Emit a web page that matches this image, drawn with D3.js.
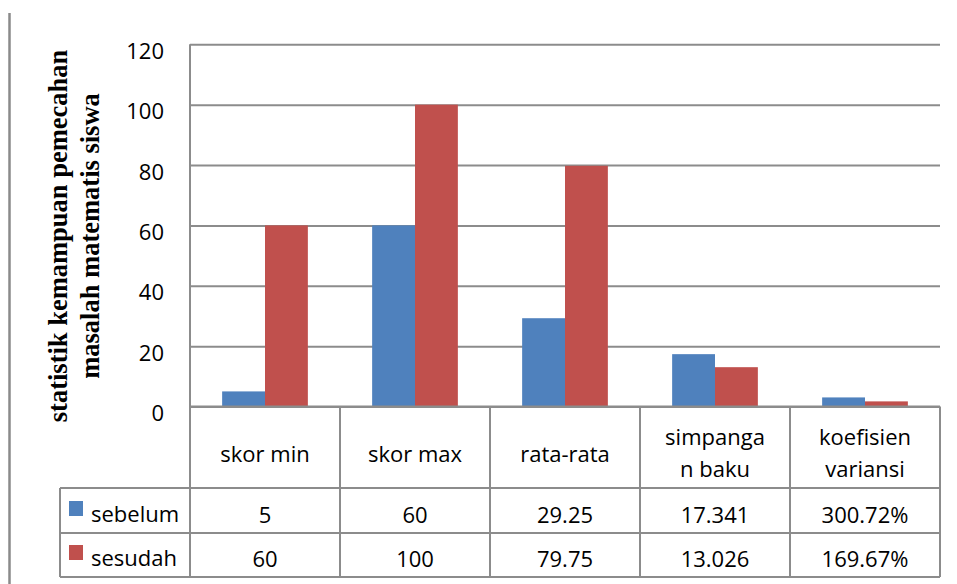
<!DOCTYPE html>
<html>
<head>
<meta charset="utf-8">
<script src="https://cdn.jsdelivr.net/npm/d3@7"></script>
<style>
  html, body { margin: 0; padding: 0; background: #fff; }
  svg { display: block; }
  .lbl { font-family: "Open Sans", sans-serif; font-size: 22px; fill: #000; }
  .title { font-family: "Liberation Serif", "Times New Roman", serif; font-weight: bold; font-size: 26.5px; fill: #000; }
</style>
</head>
<body>
<svg id="chart" width="957" height="584"></svg>
<script>
// Category labels, as they wrap inside the data table cells
const categories = ["skor min", "skor max", "rata-rata", "simpangan baku", "koefisien variansi"];
const categoryLines = [["skor min"], ["skor max"], ["rata-rata"], ["simpanga", "n baku"], ["koefisien", "variansi"]];

// Series
const seriesNames = ["sebelum", "sesudah"];
const sebelum = [5, 60, 29.25, 17.341, 3.0072];
const sesudah = [60, 100, 79.75, 13.026, 1.6967];
const seriesColors = ["#4F81BD", "#C0504D"];

// Value axis ticks
const yTicks = [0, 20, 40, 60, 80, 100, 120];

const yTitleLines = ["statistik kemampuan pemecahan", "masalah matematis siswa"];

const seriesValues = [sebelum, sesudah];

// How each table cell is written (the last column is a ratio shown as percent)
const fmtPct = d3.format(".2%");
const cellText = (v, i) => (i === categories.length - 1 ? fmtPct(v) : String(v));

const svg = d3.select("#chart");
const gridColor = "#8c8c8c";

const plotLeft = 190, plotRight = 940, plotTop = 44.3, plotBottom = 406.5;
const rowTops = [plotBottom, 488, 533, 577];
const legendLeft = 60;

const x = d3.scaleBand().domain(categories).range([plotLeft, plotRight]).padding(0);
const xs = d3.scaleBand().domain(seriesNames).range([0, x.bandwidth()])
  .paddingInner(0).paddingOuter(0.75);
const y = d3.scaleLinear().domain([0, 120]).range([plotBottom, plotTop]);

// Outer frame line at the left edge
svg.append("line")
  .attr("x1", 9.5).attr("x2", 9.5).attr("y1", 13).attr("y2", 584)
  .attr("stroke", "#8a8a8a").attr("stroke-width", 2.5);

// Horizontal gridlines
const grid = svg.append("g")
  .attr("transform", `translate(${plotLeft},0)`)
  .call(d3.axisLeft(y).tickValues(yTicks).tickSize(-(plotRight - plotLeft)).tickFormat(""));
grid.select(".domain").remove();
grid.selectAll(".tick line").attr("stroke", gridColor).attr("stroke-width", 2);

// Value axis labels
const yLab = svg.append("g")
  .attr("transform", `translate(164,0)`)
  .call(d3.axisLeft(y).tickValues(yTicks).tickSize(0).tickPadding(0).tickFormat(d3.format("d")));
yLab.select(".domain").remove();
yLab.selectAll(".tick text")
  .attr("class", "lbl").attr("dy", null)
  .attr("y", 5).attr("dominant-baseline", "central")
  .attr("text-anchor", "end")
  .attr("font-size", null).attr("font-family", null).attr("fill", null);

// Bars
seriesNames.forEach((s, si) => {
  svg.append("g").selectAll("rect")
    .data(seriesValues[si])
    .join("rect")
    .attr("x", (d, i) => x(categories[i]) + xs(s))
    .attr("width", xs.bandwidth())
    .attr("y", d => y(d))
    .attr("height", d => y(0) - y(d))
    .attr("fill", seriesColors[si]);
});

// Data table lines
const tbl = svg.append("g").attr("stroke", gridColor).attr("stroke-width", 2);
// plot area left border continuing down through the table
tbl.append("line").attr("x1", plotLeft).attr("x2", plotLeft).attr("y1", plotTop).attr("y2", rowTops[3]);
// category axis / table top
tbl.append("line").attr("x1", plotLeft).attr("x2", plotRight).attr("y1", rowTops[0]).attr("y2", rowTops[0]);
// row lines including the legend column
[rowTops[1], rowTops[2], rowTops[3]].forEach(yy => {
  tbl.append("line").attr("x1", legendLeft).attr("x2", plotRight).attr("y1", yy).attr("y2", yy);
});
// column separators
categories.forEach((c, i) => {
  const xx = x(c) + x.bandwidth();
  tbl.append("line").attr("x1", xx).attr("x2", xx).attr("y1", rowTops[0]).attr("y2", rowTops[3]);
});
tbl.append("line").attr("x1", legendLeft).attr("x2", legendLeft).attr("y1", rowTops[1]).attr("y2", rowTops[3]);

// Category names
const catG = svg.append("g");
categoryLines.forEach((lines, i) => {
  const cx = x(categories[i]) + x.bandwidth() / 2;
  const t = catG.append("text").attr("class", "lbl").attr("text-anchor", "middle");
  const base = lines.length === 1 ? 462 : 445;
  lines.forEach((ln, k) => {
    t.append("tspan").attr("x", cx).attr("y", base + k * 32).text(ln);
  });
});

// Value rows with legend keys
const rowBaselines = [523, 567];
seriesNames.forEach((s, si) => {
  const g = svg.append("g");
  g.append("rect")
    .attr("x", 69).attr("y", rowBaselines[si] - 22)
    .attr("width", 14).attr("height", 15)
    .attr("fill", seriesColors[si]);
  g.append("text").attr("class", "lbl")
    .attr("x", 91).attr("y", rowBaselines[si] - 1)
    .text(s);
  g.selectAll("text.val")
    .data(seriesValues[si])
    .join("text")
    .attr("class", "lbl val")
    .attr("text-anchor", "middle")
    .attr("x", (d, i) => x(categories[i]) + x.bandwidth() / 2)
    .attr("y", rowBaselines[si])
    .text((d, i) => cellText(d, i));
});

// Rotated value-axis title (two lines)
const titleCY = 236;
const tt = svg.append("text").attr("class", "title")
  .attr("text-anchor", "middle")
  .attr("transform", `translate(0,${titleCY}) rotate(-90)`);
yTitleLines.forEach((ln, k) => {
  tt.append("tspan").attr("x", 0).attr("y", 67 + k * 32).text(ln);
});
</script>
</body>
</html>
